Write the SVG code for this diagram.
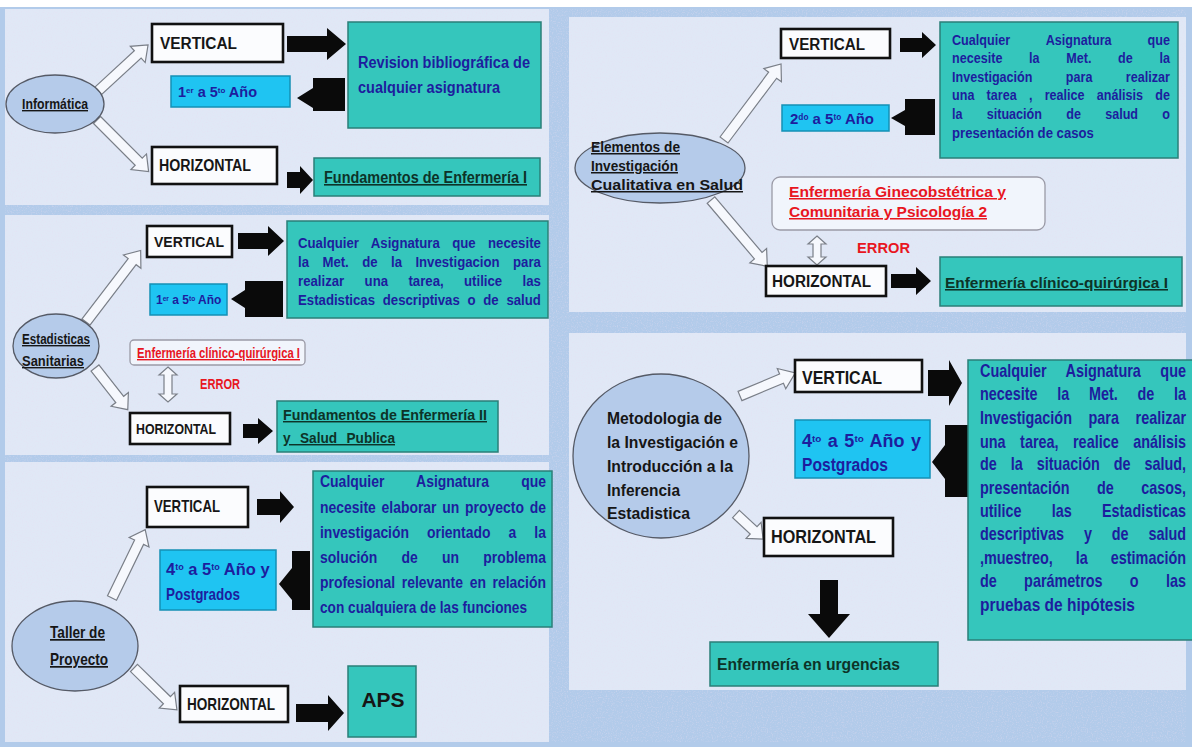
<svg xmlns="http://www.w3.org/2000/svg" width="1192" height="747" viewBox="0 0 1192 747">
<style>
.panel{fill:#e0e8f6}
.ell{fill:#b5cbea;stroke:#555a66;stroke-width:1.3}
.lbl{fill:#fbfcfe;stroke:#111;stroke-width:2.6}
.teal{fill:#35c6bc;stroke:#2a7f78;stroke-width:1.5}
.cyan{fill:#1fc4f2;stroke:#1590b5;stroke-width:1.5}
.err{fill:#f1f5fc;stroke:#9a9aa6;stroke-width:1.3}
.blk{fill:#0a0a0a}
.hol{fill:#f6f8fd;stroke:#7a7f88;stroke-width:1.2}
text{font-family:"Liberation Sans",Arial,sans-serif;font-weight:bold}
.k{fill:#161616}
.n{fill:#1d1d9e}
.r{fill:#e8161f}
.g{fill:#0d3328}
.u{text-decoration:underline}
.sup{font-size:55%;baseline-shift:super}
</style>
<defs>
<filter id="speck" x="0" y="0" width="100%" height="100%">
<feTurbulence type="fractalNoise" baseFrequency="0.8" numOctaves="2" seed="4"/>
<feColorMatrix type="matrix" values="0 0 0 0 0.8  0 0 0 0 0.72  0 0 0 0 0.88  0 0 0 -3 1.55"/>
</filter>
</defs>
<rect width="1192" height="747" fill="#b2cbea"/>
<rect width="1192" height="7" fill="#ffffff"/>
<g id="panels">
<rect class="panel" x="5" y="9" width="544" height="196"/>
<rect class="panel" x="5" y="215" width="544" height="240"/>
<rect class="panel" x="5" y="462" width="544" height="280"/>
<rect class="panel" x="569" y="17" width="617" height="295"/>
<rect class="panel" x="569" y="333" width="617" height="357"/>
<g filter="url(#speck)" opacity="0.35">
<rect x="5" y="9" width="544" height="196"/>
<rect x="5" y="215" width="544" height="240"/>
<rect x="5" y="462" width="544" height="280"/>
<rect x="569" y="17" width="617" height="295"/>
<rect x="569" y="333" width="617" height="357"/>
</g>
</g>

<g id="connectors">
<!-- Panel A -->
<polygon class="hol" transform="translate(98,91) rotate(-42.6)" points="0,-5 54,-5 54,-11 68,0 54,11 54,5 0,5"/>
<polygon class="hol" transform="translate(97,120) rotate(45)" points="0,-5 59,-5 59,-11 73,0 59,11 59,5 0,5"/>
<polygon class="blk" points="287,36 327,36 327,28 346,44 327,60 327,52 287,52"/>
<polygon class="blk" points="345,78 313,78 313,88 297,98 313,108 313,111 345,111"/>
<polygon class="blk" points="287,172 300,172 300,166 313,180 300,194 300,188 287,188"/>
<!-- Panel B -->
<polygon class="hol" transform="translate(86,322) rotate(-52.6)" points="0,-5 76,-5 76,-11 90,0 76,11 76,5 0,5"/>
<polygon class="hol" transform="translate(95,368) rotate(51.8)" points="0,-5 40,-5 40,-11 53,0 40,11 40,5 0,5"/>
<polygon class="blk" points="238,233 268,233 268,226 284,241 268,256 268,249 238,249"/>
<polygon class="blk" points="283,281 245,281 245,290 231,299 245,308 245,317 283,317"/>
<polygon class="hol" points="168,367 177,375 172,375 172,394 177,394 168,402 159,394 164,394 164,375 159,375"/>
<polygon class="blk" points="243,424 258,424 258,418 273,431 258,444 258,438 243,438"/>
<!-- Panel C -->
<polygon class="hol" transform="translate(112,598) rotate(-64.1)" points="0,-5 62,-5 62,-11 76,0 62,11 62,5 0,5"/>
<polygon class="hol" transform="translate(134,668) rotate(44.3)" points="0,-5 46,-5 46,-11 60,0 46,11 46,5 0,5"/>
<polygon class="blk" points="257,499 280,499 280,491 294,507 280,523 280,515 257,515"/>
<polygon class="blk" points="310,551 292,551 292,568 279,584 292,600 292,610 310,610"/>
<polygon class="blk" points="296,704 328,704 328,695 344,713 328,731 328,722 296,722"/>
<!-- Panel D -->
<polygon class="hol" transform="translate(724,140) rotate(-53.1)" points="0,-5 81,-5 81,-11 95,0 81,11 81,5 0,5"/>
<polygon class="hol" transform="translate(711,200) rotate(49.7)" points="0,-5 73,-5 73,-11 87,0 73,11 73,5 0,5"/>
<polygon class="blk" points="900,38 922,38 922,32 936,45 922,58 922,52 900,52"/>
<polygon class="blk" points="935,99 905,99 905,110 891,118 905,126 905,135 935,135"/>
<polygon class="hol" points="817,236 826,244 821,244 821,257 826,257 817,265 808,257 813,257 813,244 808,244"/>
<polygon class="blk" points="891,274 916,274 916,267 931,281 916,295 916,288 891,288"/>
<!-- Panel E -->
<polygon class="hol" transform="translate(740,396) rotate(-22.7)" points="0,-5 45,-5 45,-11 60,0 45,11 45,5 0,5"/>
<polygon class="hol" transform="translate(736,514) rotate(42.8)" points="0,-5 24,-5 24,-11 37,0 24,11 24,5 0,5"/>
<polygon class="blk" points="928,370 949,370 949,360 962,383 949,406 949,396 928,396"/>
<polygon class="blk" points="968,425 945,425 945,445 932,462 945,479 945,497 968,497"/>
<polygon class="blk" points="820,580 838,580 838,614 850,614 829,638 808,614 820,614"/>
</g>

<g id="informatica">
<ellipse class="ell" cx="55" cy="104" rx="49" ry="29"/>
<text class="k u" x="22" y="109" font-size="14" textLength="66" lengthAdjust="spacingAndGlyphs">Informática</text>
</g>
<g id="a-vertical">
<rect class="lbl" x="152" y="24" width="131" height="38"/>
<text class="k" x="160" y="49" font-size="16" textLength="77" lengthAdjust="spacingAndGlyphs">VERTICAL</text>
</g>
<g id="a-revision">
<rect class="teal" x="348" y="22" width="193" height="106"/>
<text class="n" x="358" y="68" font-size="16" textLength="172" lengthAdjust="spacingAndGlyphs">Revision bibliográfica de</text>
<text class="n" x="358" y="93" font-size="16" textLength="142" lengthAdjust="spacingAndGlyphs">cualquier asignatura</text>
</g>
<g id="a-anio">
<rect class="cyan" x="171" y="76" width="119" height="31"/>
<text class="n" x="178" y="97" font-size="14.5">1<tspan class="sup">er</tspan> a 5<tspan class="sup">to</tspan> Año</text>
</g>
<g id="a-horizontal">
<rect class="lbl" x="152" y="147" width="125" height="37"/>
<text class="k" x="159" y="171" font-size="16" textLength="92" lengthAdjust="spacingAndGlyphs">HORIZONTAL</text>
</g>
<g id="a-fundamentos">
<rect class="teal" x="314" y="158" width="226" height="38"/>
<text class="g u" x="324" y="183" font-size="16" textLength="203" lengthAdjust="spacingAndGlyphs">Fundamentos de Enfermería I</text>
</g>

<g id="estadisticas">
<ellipse class="ell" cx="56" cy="346" rx="43" ry="32"/>
<text class="k u" x="22" y="344" font-size="14" textLength="68" lengthAdjust="spacingAndGlyphs">Estadisticas</text>
<text class="k u" x="22" y="366" font-size="14" textLength="62" lengthAdjust="spacingAndGlyphs">Sanitarias</text>
</g>
<g id="b-vertical">
<rect class="lbl" x="147" y="226" width="85" height="31"/>
<text class="k" x="154" y="247" font-size="15" textLength="70" lengthAdjust="spacingAndGlyphs">VERTICAL</text>
</g>
<g id="b-cualquier">
<rect class="teal" x="287" y="221" width="261" height="97"/>
<text class="n" transform="matrix(0.88 0 0 1 298 0)" x="0" y="248" font-size="15" word-spacing="9.8" textLength="276" lengthAdjust="spacingAndGlyphs">Cualquier Asignatura que necesite</text>
<text class="n" transform="matrix(0.88 0 0 1 298 0)" x="0" y="267" font-size="15" word-spacing="11.1" textLength="276" lengthAdjust="spacingAndGlyphs">la Met. de la Investigacion para</text>
<text class="n" transform="matrix(0.88 0 0 1 298 0)" x="0" y="286" font-size="15" word-spacing="19" textLength="276" lengthAdjust="spacingAndGlyphs">realizar una tarea, utilice las</text>
<text class="n" transform="matrix(0.88 0 0 1 298 0)" x="0" y="305" font-size="15" word-spacing="4.6" textLength="276" lengthAdjust="spacingAndGlyphs">Estadisticas descriptivas o de salud</text>
</g>
<g id="b-anio">
<rect class="cyan" x="150" y="284" width="77" height="31"/>
<text class="n" x="156" y="304" font-size="12">1<tspan class="sup">er</tspan> a 5<tspan class="sup">to</tspan> Año</text>
</g>
<g id="b-error-box">
<rect class="err" x="130" y="340" width="175" height="25" rx="4"/>
<text class="r u" x="137" y="358" font-size="14" textLength="163" lengthAdjust="spacingAndGlyphs">Enfermería clínico-quirúrgica I</text>
</g>
<g id="b-error">
<text class="r" x="200" y="389" font-size="14" textLength="40" lengthAdjust="spacingAndGlyphs">ERROR</text>
</g>
<g id="b-horizontal">
<rect class="lbl" x="130" y="413" width="100" height="31"/>
<text class="k" x="136" y="434" font-size="15" textLength="80" lengthAdjust="spacingAndGlyphs">HORIZONTAL</text>
</g>
<g id="b-fundamentos">
<rect class="teal" x="277" y="401" width="221" height="51"/>
<text class="g u" x="283" y="420" font-size="14.5" textLength="204" lengthAdjust="spacingAndGlyphs">Fundamentos de Enfermería II</text>
<text class="g u" x="283" y="443" font-size="14.5" word-spacing="6" textLength="112" lengthAdjust="spacingAndGlyphs">y Salud Publica</text>
</g>

<g id="taller">
<ellipse class="ell" cx="75" cy="646" rx="63" ry="45"/>
<text class="k u" x="50" y="638" font-size="17" textLength="55" lengthAdjust="spacingAndGlyphs">Taller de</text>
<text class="k u" x="50" y="665" font-size="17" textLength="58" lengthAdjust="spacingAndGlyphs">Proyecto</text>
</g>
<g id="c-vertical">
<rect class="lbl" x="147" y="487" width="101" height="40"/>
<text class="k" x="154" y="512" font-size="17" textLength="66" lengthAdjust="spacingAndGlyphs">VERTICAL</text>
</g>
<g id="c-cualquier">
<rect class="teal" x="313" y="471" width="239" height="156"/>
<text class="n" transform="matrix(0.82 0 0 1 320 0)" x="0" y="487" font-size="17" word-spacing="34.4" textLength="275.6" lengthAdjust="spacingAndGlyphs">Cualquier Asignatura que</text>
<text class="n" transform="matrix(0.82 0 0 1 320 0)" x="0" y="513" font-size="17" word-spacing="2.3" textLength="275.6" lengthAdjust="spacingAndGlyphs">necesite elaborar un proyecto de</text>
<text class="n" transform="matrix(0.82 0 0 1 320 0)" x="0" y="538" font-size="17" word-spacing="17.3" textLength="275.6" lengthAdjust="spacingAndGlyphs">investigación orientado a la</text>
<text class="n" transform="matrix(0.82 0 0 1 320 0)" x="0" y="563" font-size="17" word-spacing="24.8" textLength="275.6" lengthAdjust="spacingAndGlyphs">solución de un problema</text>
<text class="n" transform="matrix(0.82 0 0 1 320 0)" x="0" y="588" font-size="17" word-spacing="3.4" textLength="275.6" lengthAdjust="spacingAndGlyphs">profesional relevante en relación</text>
<text class="n" transform="matrix(0.82 0 0 1 320 0)" x="0" y="613" font-size="17" textLength="252.4" lengthAdjust="spacingAndGlyphs">con cualquiera de las funciones</text>
</g>
<g id="c-anio">
<rect class="cyan" x="160" y="550" width="116" height="60"/>
<text class="n" x="166" y="575" font-size="16.5">4<tspan class="sup">to</tspan> a 5<tspan class="sup">to</tspan> Año y</text>
<text class="n" x="166" y="600" font-size="17" textLength="74" lengthAdjust="spacingAndGlyphs">Postgrados</text>
</g>
<g id="c-horizontal">
<rect class="lbl" x="180" y="686" width="108" height="36"/>
<text class="k" x="187" y="710" font-size="17" textLength="88" lengthAdjust="spacingAndGlyphs">HORIZONTAL</text>
</g>
<g id="c-aps">
<rect class="teal" x="348" y="666" width="68" height="71"/>
<text class="k" x="383" y="707" font-size="21" text-anchor="middle">APS</text>
</g>

<g id="elementos">
<ellipse class="ell" cx="660" cy="168" rx="85" ry="35"/>
<text class="k u" x="591" y="152" font-size="15" textLength="89" lengthAdjust="spacingAndGlyphs">Elementos de</text>
<text class="k u" x="591" y="171" font-size="15" textLength="87" lengthAdjust="spacingAndGlyphs">Investigación</text>
<text class="k u" x="591" y="190" font-size="15" textLength="152" lengthAdjust="spacingAndGlyphs">Cualitativa en Salud</text>
</g>
<g id="d-vertical">
<rect class="lbl" x="781" y="29" width="109" height="29"/>
<text class="k" x="789" y="50" font-size="16" textLength="76" lengthAdjust="spacingAndGlyphs">VERTICAL</text>
</g>
<g id="d-cualquier">
<rect class="teal" x="940" y="22" width="238" height="136"/>
<text class="n" transform="matrix(0.84 0 0 1 952 0)" x="0" y="45" font-size="15" word-spacing="38.5" textLength="259.5" lengthAdjust="spacingAndGlyphs">Cualquier Asignatura que</text>
<text class="n" transform="matrix(0.84 0 0 1 952 0)" x="0" y="63" font-size="15" word-spacing="27.6" textLength="259.5" lengthAdjust="spacingAndGlyphs">necesite la Met. de la</text>
<text class="n" transform="matrix(0.84 0 0 1 952 0)" x="0" y="82" font-size="15" word-spacing="35.6" textLength="259.5" lengthAdjust="spacingAndGlyphs">Investigación para realizar</text>
<text class="n" transform="matrix(0.84 0 0 1 952 0)" x="0" y="100" font-size="15" word-spacing="10.4" textLength="259.5" lengthAdjust="spacingAndGlyphs">una tarea , realice análisis de</text>
<text class="n" transform="matrix(0.84 0 0 1 952 0)" x="0" y="119" font-size="15" word-spacing="24.7" textLength="259.5" lengthAdjust="spacingAndGlyphs">la situación de salud o</text>
<text class="n" transform="matrix(0.84 0 0 1 952 0)" x="0" y="138" font-size="15" textLength="169" lengthAdjust="spacingAndGlyphs">presentación de casos</text>
</g>
<g id="d-anio">
<rect class="cyan" x="782" y="105" width="107" height="26"/>
<text class="n" x="790" y="124" font-size="15">2<tspan class="sup">do</tspan> a 5<tspan class="sup">to</tspan> Año</text>
</g>
<g id="d-error-box">
<rect class="err" x="772" y="177" width="273" height="53" rx="8"/>
<text class="r u" x="789" y="197" font-size="15" textLength="217" lengthAdjust="spacingAndGlyphs">Enfermería Ginecobstétrica y</text>
<text class="r u" x="789" y="217" font-size="15" textLength="198" lengthAdjust="spacingAndGlyphs">Comunitaria y Psicología 2</text>
</g>
<g id="d-error">
<text class="r" x="857" y="253" font-size="15" textLength="53" lengthAdjust="spacingAndGlyphs">ERROR</text>
</g>
<g id="d-horizontal">
<rect class="lbl" x="766" y="266" width="120" height="30"/>
<text class="k" x="772" y="287" font-size="16" textLength="99" lengthAdjust="spacingAndGlyphs">HORIZONTAL</text>
</g>
<g id="d-clinico">
<rect class="teal" x="940" y="257" width="242" height="49"/>
<text class="g u" x="945" y="288" font-size="15.5" textLength="223" lengthAdjust="spacingAndGlyphs">Enfermería clínico-quirúrgica I</text>
</g>

<g id="metodologia">
<ellipse class="ell" cx="661" cy="456" rx="88" ry="82"/>
<text class="k" x="607" y="424" font-size="17" textLength="115" lengthAdjust="spacingAndGlyphs">Metodologia de</text>
<text class="k" x="607" y="448" font-size="17" textLength="131" lengthAdjust="spacingAndGlyphs">la Investigación e</text>
<text class="k" x="607" y="472" font-size="17" textLength="126" lengthAdjust="spacingAndGlyphs">Introducción a la</text>
<text class="k" x="607" y="496" font-size="17" textLength="73" lengthAdjust="spacingAndGlyphs">Inferencia</text>
<text class="k" x="607" y="519" font-size="17" textLength="83" lengthAdjust="spacingAndGlyphs">Estadistica</text>
</g>
<g id="e-vertical">
<rect class="lbl" x="795" y="360" width="127" height="32"/>
<text class="k" x="802" y="384" font-size="19" textLength="80" lengthAdjust="spacingAndGlyphs">VERTICAL</text>
</g>
<g id="e-cualquier">
<rect class="teal" x="968" y="360" width="230" height="280"/>
<text class="n" transform="matrix(0.8 0 0 1 980 0)" x="0" y="377" font-size="18" word-spacing="19.2" textLength="257.5" lengthAdjust="spacingAndGlyphs">Cualquier Asignatura que</text>
<text class="n" transform="matrix(0.8 0 0 1 980 0)" x="0" y="400" font-size="18" word-spacing="19.6" textLength="257.5" lengthAdjust="spacingAndGlyphs">necesite la Met. de la</text>
<text class="n" transform="matrix(0.8 0 0 1 980 0)" x="0" y="424" font-size="18" word-spacing="15.8" textLength="257.5" lengthAdjust="spacingAndGlyphs">Investigación para realizar</text>
<text class="n" transform="matrix(0.8 0 0 1 980 0)" x="0" y="448" font-size="18" word-spacing="13.1" textLength="257.5" lengthAdjust="spacingAndGlyphs">una tarea, realice análisis</text>
<text class="n" transform="matrix(0.8 0 0 1 980 0)" x="0" y="470" font-size="18" word-spacing="12.4" textLength="257.5" lengthAdjust="spacingAndGlyphs">de la situación de salud,</text>
<text class="n" transform="matrix(0.8 0 0 1 980 0)" x="0" y="494" font-size="18" word-spacing="29.2" textLength="257.5" lengthAdjust="spacingAndGlyphs">presentación de casos,</text>
<text class="n" transform="matrix(0.8 0 0 1 980 0)" x="0" y="517" font-size="18" word-spacing="32.7" textLength="257.5" lengthAdjust="spacingAndGlyphs">utilice las Estadisticas</text>
<text class="n" transform="matrix(0.8 0 0 1 980 0)" x="0" y="540" font-size="18" word-spacing="19.8" textLength="257.5" lengthAdjust="spacingAndGlyphs">descriptivas y de salud</text>
<text class="n" transform="matrix(0.8 0 0 1 980 0)" x="0" y="564" font-size="18" word-spacing="23.7" textLength="257.5" lengthAdjust="spacingAndGlyphs">,muestreo, la estimación</text>
<text class="n" transform="matrix(0.8 0 0 1 980 0)" x="0" y="587" font-size="18" word-spacing="29.1" textLength="257.5" lengthAdjust="spacingAndGlyphs">de parámetros o las</text>
<text class="n" transform="matrix(0.8 0 0 1 980 0)" x="0" y="611" font-size="18" textLength="193.7" lengthAdjust="spacingAndGlyphs">pruebas de hipótesis</text>
</g>
<g id="e-anio">
<rect class="cyan" x="795" y="420" width="135" height="58"/>
<text class="n" x="802" y="447" font-size="18" word-spacing="1.5">4<tspan class="sup">to</tspan> a 5<tspan class="sup">to</tspan> Año y</text>
<text class="n" x="802" y="471" font-size="18" textLength="86" lengthAdjust="spacingAndGlyphs">Postgrados</text>
</g>
<g id="e-horizontal">
<rect class="lbl" x="764" y="518" width="129" height="38"/>
<text class="k" x="771" y="543" font-size="19" textLength="105" lengthAdjust="spacingAndGlyphs">HORIZONTAL</text>
</g>
<g id="e-urgencias">
<rect class="teal" x="710" y="642" width="228" height="44"/>
<text class="g" x="717" y="670" font-size="17" textLength="183" lengthAdjust="spacingAndGlyphs">Enfermería en urgencias</text>
</g>
</svg>
